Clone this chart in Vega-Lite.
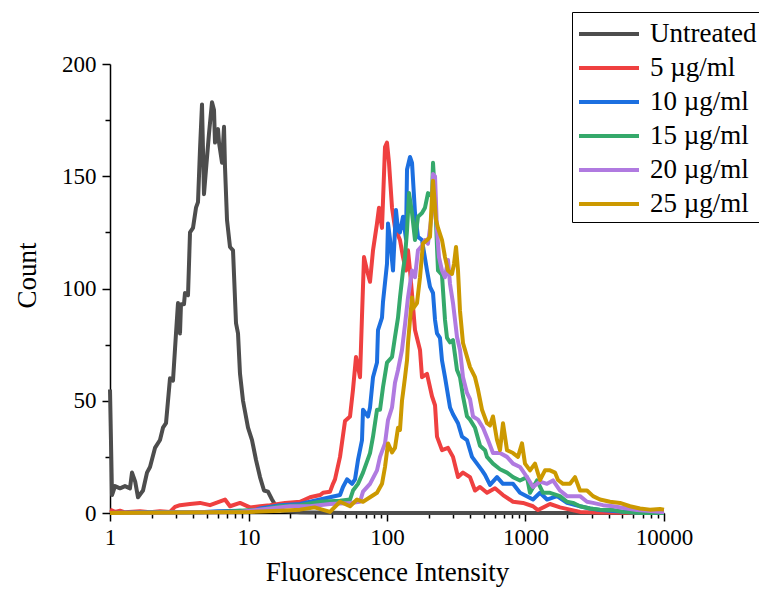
{
  "$schema": "https://vega.github.io/schema/vega-lite/v6.json",
  "autosize": {"type": "none"},
  "width": 554,
  "height": 449,
  "padding": {"left": 110, "top": 64, "right": 95, "bottom": 78},
  "background": "white",
  "config": {
    "view": {"stroke": null},
    "font": "Liberation Serif",
    "axis": {"grid": false, "domainColor": "#000000", "domainWidth": 1.5, "tickColor": "#000000", "tickWidth": 1.5, "labelFont": "Liberation Serif", "titleFont": "Liberation Serif", "labelColor": "#000000", "titleColor": "#000000", "labelFontSize": 23, "titleFontSize": 27, "titleFontWeight": "normal", "labelOverlap": false, "labelBound": false, "labelFlush": false}
  },
  "data": {"values": [
    {"sample": "Untreated", "intensity": 1.0, "count": 55},
    {"sample": "Untreated", "intensity": 1.034, "count": 8},
    {"sample": "Untreated", "intensity": 1.087, "count": 12},
    {"sample": "Untreated", "intensity": 1.181, "count": 11},
    {"sample": "Untreated", "intensity": 1.283, "count": 12},
    {"sample": "Untreated", "intensity": 1.394, "count": 11},
    {"sample": "Untreated", "intensity": 1.442, "count": 18},
    {"sample": "Untreated", "intensity": 1.52, "count": 14},
    {"sample": "Untreated", "intensity": 1.593, "count": 7},
    {"sample": "Untreated", "intensity": 1.731, "count": 10},
    {"sample": "Untreated", "intensity": 1.85, "count": 18},
    {"sample": "Untreated", "intensity": 1.945, "count": 20.5},
    {"sample": "Untreated", "intensity": 2.113, "count": 29},
    {"sample": "Untreated", "intensity": 2.296, "count": 32.5},
    {"sample": "Untreated", "intensity": 2.413, "count": 38},
    {"sample": "Untreated", "intensity": 2.537, "count": 40},
    {"sample": "Untreated", "intensity": 2.712, "count": 60},
    {"sample": "Untreated", "intensity": 2.85, "count": 59},
    {"sample": "Untreated", "intensity": 2.996, "count": 80},
    {"sample": "Untreated", "intensity": 3.097, "count": 93.5},
    {"sample": "Untreated", "intensity": 3.202, "count": 80},
    {"sample": "Untreated", "intensity": 3.255, "count": 93},
    {"sample": "Untreated", "intensity": 3.421, "count": 93},
    {"sample": "Untreated", "intensity": 3.479, "count": 98},
    {"sample": "Untreated", "intensity": 3.658, "count": 97},
    {"sample": "Untreated", "intensity": 3.782, "count": 125},
    {"sample": "Untreated", "intensity": 3.975, "count": 127},
    {"sample": "Untreated", "intensity": 4.178, "count": 136},
    {"sample": "Untreated", "intensity": 4.319, "count": 138.5},
    {"sample": "Untreated", "intensity": 4.465, "count": 162},
    {"sample": "Untreated", "intensity": 4.616, "count": 182},
    {"sample": "Untreated", "intensity": 4.7, "count": 160},
    {"sample": "Untreated", "intensity": 4.771, "count": 142},
    {"sample": "Untreated", "intensity": 4.933, "count": 153},
    {"sample": "Untreated", "intensity": 5.185, "count": 169},
    {"sample": "Untreated", "intensity": 5.451, "count": 183},
    {"sample": "Untreated", "intensity": 5.636, "count": 179.5},
    {"sample": "Untreated", "intensity": 5.73, "count": 165},
    {"sample": "Untreated", "intensity": 6.024, "count": 171},
    {"sample": "Untreated", "intensity": 6.124, "count": 165},
    {"sample": "Untreated", "intensity": 6.439, "count": 156},
    {"sample": "Untreated", "intensity": 6.656, "count": 172},
    {"sample": "Untreated", "intensity": 6.767, "count": 154},
    {"sample": "Untreated", "intensity": 6.996, "count": 130.5},
    {"sample": "Untreated", "intensity": 7.353, "count": 118.5},
    {"sample": "Untreated", "intensity": 7.73, "count": 117},
    {"sample": "Untreated", "intensity": 8.124, "count": 84.6},
    {"sample": "Untreated", "intensity": 8.4, "count": 80},
    {"sample": "Untreated", "intensity": 8.683, "count": 62},
    {"sample": "Untreated", "intensity": 9.127, "count": 50},
    {"sample": "Untreated", "intensity": 9.918, "count": 38},
    {"sample": "Untreated", "intensity": 10.6, "count": 32.5},
    {"sample": "Untreated", "intensity": 11.33, "count": 23.6},
    {"sample": "Untreated", "intensity": 12.11, "count": 16},
    {"sample": "Untreated", "intensity": 12.94, "count": 10},
    {"sample": "Untreated", "intensity": 13.83, "count": 9.5},
    {"sample": "Untreated", "intensity": 14.78, "count": 6},
    {"sample": "Untreated", "intensity": 15.8, "count": 3},
    {"sample": "Untreated", "intensity": 17.46, "count": 1},
    {"sample": "Untreated", "intensity": 23.54, "count": 0.3},
    {"sample": "Untreated", "intensity": 50, "count": 0},
    {"sample": "Untreated", "intensity": 10000, "count": 0},

    {"sample": "5 µg/ml", "intensity": 1.0, "count": 1.5},
    {"sample": "5 µg/ml", "intensity": 1.087, "count": 0.5},
    {"sample": "5 µg/ml", "intensity": 1.181, "count": 1.0},
    {"sample": "5 µg/ml", "intensity": 1.283, "count": 0.3},
    {"sample": "5 µg/ml", "intensity": 1.647, "count": 0.8},
    {"sample": "5 µg/ml", "intensity": 1.945, "count": 0.3},
    {"sample": "5 µg/ml", "intensity": 2.296, "count": 0.8},
    {"sample": "5 µg/ml", "intensity": 2.712, "count": 0.5},
    {"sample": "5 µg/ml", "intensity": 2.946, "count": 2.7},
    {"sample": "5 µg/ml", "intensity": 3.202, "count": 3.5},
    {"sample": "5 µg/ml", "intensity": 3.782, "count": 4},
    {"sample": "5 µg/ml", "intensity": 4.465, "count": 4.5},
    {"sample": "5 µg/ml", "intensity": 5.275, "count": 3.5},
    {"sample": "5 µg/ml", "intensity": 6.767, "count": 6},
    {"sample": "5 µg/ml", "intensity": 7.353, "count": 3},
    {"sample": "5 µg/ml", "intensity": 8.683, "count": 4.5},
    {"sample": "5 µg/ml", "intensity": 10.25, "count": 2.5},
    {"sample": "5 µg/ml", "intensity": 12.11, "count": 3},
    {"sample": "5 µg/ml", "intensity": 14.3, "count": 3.5},
    {"sample": "5 µg/ml", "intensity": 18.34, "count": 4.5},
    {"sample": "5 µg/ml", "intensity": 23.54, "count": 5},
    {"sample": "5 µg/ml", "intensity": 27.8, "count": 7},
    {"sample": "5 µg/ml", "intensity": 32.83, "count": 8},
    {"sample": "5 µg/ml", "intensity": 34.51, "count": 9},
    {"sample": "5 µg/ml", "intensity": 38.76, "count": 9.5},
    {"sample": "5 µg/ml", "intensity": 40.74, "count": 13},
    {"sample": "5 µg/ml", "intensity": 42.12, "count": 15},
    {"sample": "5 µg/ml", "intensity": 45.78, "count": 25},
    {"sample": "5 µg/ml", "intensity": 49.76, "count": 41},
    {"sample": "5 µg/ml", "intensity": 54.07, "count": 43},
    {"sample": "5 µg/ml", "intensity": 56.83, "count": 55},
    {"sample": "5 µg/ml", "intensity": 59.73, "count": 69.5},
    {"sample": "5 µg/ml", "intensity": 63.85, "count": 60.5},
    {"sample": "5 µg/ml", "intensity": 66.0, "count": 88},
    {"sample": "5 µg/ml", "intensity": 68.23, "count": 114},
    {"sample": "5 µg/ml", "intensity": 71.73, "count": 108},
    {"sample": "5 µg/ml", "intensity": 75.4, "count": 103},
    {"sample": "5 µg/ml", "intensity": 79.25, "count": 117},
    {"sample": "5 µg/ml", "intensity": 84.69, "count": 129},
    {"sample": "5 µg/ml", "intensity": 87.54, "count": 136},
    {"sample": "5 µg/ml", "intensity": 92.03, "count": 127},
    {"sample": "5 µg/ml", "intensity": 96.74, "count": 163},
    {"sample": "5 µg/ml", "intensity": 100.0, "count": 165},
    {"sample": "5 µg/ml", "intensity": 103.4, "count": 156},
    {"sample": "5 µg/ml", "intensity": 108.7, "count": 136},
    {"sample": "5 µg/ml", "intensity": 114.2, "count": 127},
    {"sample": "5 µg/ml", "intensity": 124.1, "count": 121.6},
    {"sample": "5 µg/ml", "intensity": 130.5, "count": 114},
    {"sample": "5 µg/ml", "intensity": 137.1, "count": 108},
    {"sample": "5 µg/ml", "intensity": 141.8, "count": 117},
    {"sample": "5 µg/ml", "intensity": 146.6, "count": 108},
    {"sample": "5 µg/ml", "intensity": 159.3, "count": 81.5},
    {"sample": "5 µg/ml", "intensity": 173.1, "count": 72.6},
    {"sample": "5 µg/ml", "intensity": 178.9, "count": 60.5},
    {"sample": "5 µg/ml", "intensity": 194.5, "count": 62},
    {"sample": "5 µg/ml", "intensity": 211.3, "count": 52},
    {"sample": "5 µg/ml", "intensity": 222.2, "count": 48},
    {"sample": "5 µg/ml", "intensity": 229.6, "count": 34},
    {"sample": "5 µg/ml", "intensity": 249.5, "count": 28},
    {"sample": "5 µg/ml", "intensity": 275.7, "count": 29},
    {"sample": "5 µg/ml", "intensity": 299.6, "count": 25},
    {"sample": "5 µg/ml", "intensity": 325.6, "count": 16},
    {"sample": "5 µg/ml", "intensity": 353.8, "count": 18},
    {"sample": "5 µg/ml", "intensity": 397.5, "count": 16},
    {"sample": "5 µg/ml", "intensity": 431.9, "count": 10},
    {"sample": "5 µg/ml", "intensity": 469.4, "count": 11.6},
    {"sample": "5 µg/ml", "intensity": 527.2, "count": 9},
    {"sample": "5 µg/ml", "intensity": 602.3, "count": 11},
    {"sample": "5 µg/ml", "intensity": 687.9, "count": 8},
    {"sample": "5 µg/ml", "intensity": 812.3, "count": 5},
    {"sample": "5 µg/ml", "intensity": 959.2, "count": 4.5},
    {"sample": "5 µg/ml", "intensity": 1133, "count": 3},
    {"sample": "5 µg/ml", "intensity": 1231, "count": 1.3},
    {"sample": "5 µg/ml", "intensity": 1503, "count": 4},
    {"sample": "5 µg/ml", "intensity": 1775, "count": 2.5},
    {"sample": "5 µg/ml", "intensity": 2096, "count": 1.5},
    {"sample": "5 µg/ml", "intensity": 2475, "count": 0.5},
    {"sample": "5 µg/ml", "intensity": 3451, "count": 0.2},
    {"sample": "5 µg/ml", "intensity": 10000, "count": 0},

    {"sample": "10 µg/ml", "intensity": 1.0, "count": 0},
    {"sample": "10 µg/ml", "intensity": 2.0, "count": 0.3},
    {"sample": "10 µg/ml", "intensity": 4.465, "count": 0.3},
    {"sample": "10 µg/ml", "intensity": 6.0, "count": 0.8},
    {"sample": "10 µg/ml", "intensity": 8.683, "count": 1},
    {"sample": "10 µg/ml", "intensity": 10.25, "count": 0.5},
    {"sample": "10 µg/ml", "intensity": 12.11, "count": 2},
    {"sample": "10 µg/ml", "intensity": 16.88, "count": 3.5},
    {"sample": "10 µg/ml", "intensity": 23.54, "count": 4},
    {"sample": "10 µg/ml", "intensity": 27.8, "count": 5},
    {"sample": "10 µg/ml", "intensity": 32.83, "count": 6},
    {"sample": "10 µg/ml", "intensity": 38.76, "count": 7},
    {"sample": "10 µg/ml", "intensity": 45.78, "count": 8},
    {"sample": "10 µg/ml", "intensity": 48.12, "count": 11.6},
    {"sample": "10 µg/ml", "intensity": 51.44, "count": 15},
    {"sample": "10 µg/ml", "intensity": 55.89, "count": 13},
    {"sample": "10 µg/ml", "intensity": 58.75, "count": 15},
    {"sample": "10 µg/ml", "intensity": 61.74, "count": 23.6},
    {"sample": "10 µg/ml", "intensity": 66.0, "count": 32.5},
    {"sample": "10 µg/ml", "intensity": 67.11, "count": 46},
    {"sample": "10 µg/ml", "intensity": 72.93, "count": 43},
    {"sample": "10 µg/ml", "intensity": 75.4, "count": 47},
    {"sample": "10 µg/ml", "intensity": 79.25, "count": 60.5},
    {"sample": "10 µg/ml", "intensity": 84.69, "count": 67},
    {"sample": "10 µg/ml", "intensity": 86.1, "count": 81.5},
    {"sample": "10 µg/ml", "intensity": 92.03, "count": 87},
    {"sample": "10 µg/ml", "intensity": 93.56, "count": 94},
    {"sample": "10 µg/ml", "intensity": 100.0, "count": 111},
    {"sample": "10 µg/ml", "intensity": 101.7, "count": 129},
    {"sample": "10 µg/ml", "intensity": 105.1, "count": 122},
    {"sample": "10 µg/ml", "intensity": 110.5, "count": 108},
    {"sample": "10 µg/ml", "intensity": 116.1, "count": 135},
    {"sample": "10 µg/ml", "intensity": 120.1, "count": 126},
    {"sample": "10 µg/ml", "intensity": 124.1, "count": 125},
    {"sample": "10 µg/ml", "intensity": 130.5, "count": 132},
    {"sample": "10 µg/ml", "intensity": 137.1, "count": 122},
    {"sample": "10 µg/ml", "intensity": 139.5, "count": 153},
    {"sample": "10 µg/ml", "intensity": 146.6, "count": 158.6},
    {"sample": "10 µg/ml", "intensity": 151.6, "count": 156},
    {"sample": "10 µg/ml", "intensity": 159.3, "count": 133.6},
    {"sample": "10 µg/ml", "intensity": 167.4, "count": 123},
    {"sample": "10 µg/ml", "intensity": 178.9, "count": 121.6},
    {"sample": "10 µg/ml", "intensity": 194.5, "count": 108},
    {"sample": "10 µg/ml", "intensity": 204.4, "count": 100.7},
    {"sample": "10 µg/ml", "intensity": 214.9, "count": 98},
    {"sample": "10 µg/ml", "intensity": 222.2, "count": 86},
    {"sample": "10 µg/ml", "intensity": 229.6, "count": 80},
    {"sample": "10 µg/ml", "intensity": 241.3, "count": 78},
    {"sample": "10 µg/ml", "intensity": 249.5, "count": 68},
    {"sample": "10 µg/ml", "intensity": 262.3, "count": 60.5},
    {"sample": "10 µg/ml", "intensity": 285.1, "count": 47},
    {"sample": "10 µg/ml", "intensity": 299.6, "count": 44},
    {"sample": "10 µg/ml", "intensity": 325.6, "count": 40},
    {"sample": "10 µg/ml", "intensity": 347.9, "count": 34},
    {"sample": "10 µg/ml", "intensity": 378.1, "count": 32.5},
    {"sample": "10 µg/ml", "intensity": 410.9, "count": 25},
    {"sample": "10 µg/ml", "intensity": 446.5, "count": 22},
    {"sample": "10 µg/ml", "intensity": 485.2, "count": 19},
    {"sample": "10 µg/ml", "intensity": 510.0, "count": 17},
    {"sample": "10 µg/ml", "intensity": 554.2, "count": 12.5},
    {"sample": "10 µg/ml", "intensity": 622.6, "count": 16},
    {"sample": "10 µg/ml", "intensity": 687.9, "count": 13},
    {"sample": "10 µg/ml", "intensity": 812.3, "count": 13},
    {"sample": "10 µg/ml", "intensity": 912.6, "count": 9},
    {"sample": "10 µg/ml", "intensity": 1133, "count": 6},
    {"sample": "10 µg/ml", "intensity": 1273, "count": 9},
    {"sample": "10 µg/ml", "intensity": 1430, "count": 6},
    {"sample": "10 µg/ml", "intensity": 1689, "count": 7.5},
    {"sample": "10 µg/ml", "intensity": 1994, "count": 4.5},
    {"sample": "10 µg/ml", "intensity": 2475, "count": 3},
    {"sample": "10 µg/ml", "intensity": 2922, "count": 2},
    {"sample": "10 µg/ml", "intensity": 3451, "count": 1.3},
    {"sample": "10 µg/ml", "intensity": 4075, "count": 1},
    {"sample": "10 µg/ml", "intensity": 5682, "count": 0.3},
    {"sample": "10 µg/ml", "intensity": 10000, "count": 0},

    {"sample": "15 µg/ml", "intensity": 1.0, "count": 0},
    {"sample": "15 µg/ml", "intensity": 6.226, "count": 0.5},
    {"sample": "15 µg/ml", "intensity": 12.11, "count": 1.5},
    {"sample": "15 µg/ml", "intensity": 16.88, "count": 3},
    {"sample": "15 µg/ml", "intensity": 23.54, "count": 3.5},
    {"sample": "15 µg/ml", "intensity": 32.83, "count": 5},
    {"sample": "15 µg/ml", "intensity": 45.78, "count": 5.5},
    {"sample": "15 µg/ml", "intensity": 54.07, "count": 6},
    {"sample": "15 µg/ml", "intensity": 56.83, "count": 10},
    {"sample": "15 µg/ml", "intensity": 61.74, "count": 13},
    {"sample": "15 µg/ml", "intensity": 67.11, "count": 18},
    {"sample": "15 µg/ml", "intensity": 75.4, "count": 26.7},
    {"sample": "15 µg/ml", "intensity": 79.25, "count": 34},
    {"sample": "15 µg/ml", "intensity": 84.69, "count": 46},
    {"sample": "15 µg/ml", "intensity": 89.03, "count": 46},
    {"sample": "15 µg/ml", "intensity": 93.56, "count": 56},
    {"sample": "15 µg/ml", "intensity": 100.0, "count": 67},
    {"sample": "15 µg/ml", "intensity": 108.7, "count": 69.5},
    {"sample": "15 µg/ml", "intensity": 114.2, "count": 78.4},
    {"sample": "15 µg/ml", "intensity": 120.1, "count": 87},
    {"sample": "15 µg/ml", "intensity": 124.1, "count": 96},
    {"sample": "15 µg/ml", "intensity": 130.5, "count": 108},
    {"sample": "15 µg/ml", "intensity": 134.9, "count": 114},
    {"sample": "15 µg/ml", "intensity": 139.5, "count": 126},
    {"sample": "15 µg/ml", "intensity": 144.2, "count": 142.5},
    {"sample": "15 µg/ml", "intensity": 151.6, "count": 133.6},
    {"sample": "15 µg/ml", "intensity": 159.3, "count": 121.6},
    {"sample": "15 µg/ml", "intensity": 167.4, "count": 132},
    {"sample": "15 µg/ml", "intensity": 178.9, "count": 133.6},
    {"sample": "15 µg/ml", "intensity": 188.1, "count": 136},
    {"sample": "15 µg/ml", "intensity": 197.7, "count": 142.5},
    {"sample": "15 µg/ml", "intensity": 211.3, "count": 141},
    {"sample": "15 µg/ml", "intensity": 214.9, "count": 156},
    {"sample": "15 µg/ml", "intensity": 222.2, "count": 141},
    {"sample": "15 µg/ml", "intensity": 229.6, "count": 118.5},
    {"sample": "15 µg/ml", "intensity": 233.5, "count": 108},
    {"sample": "15 µg/ml", "intensity": 249.5, "count": 106},
    {"sample": "15 µg/ml", "intensity": 262.3, "count": 86},
    {"sample": "15 µg/ml", "intensity": 271.2, "count": 78},
    {"sample": "15 µg/ml", "intensity": 285.1, "count": 76},
    {"sample": "15 µg/ml", "intensity": 299.6, "count": 77},
    {"sample": "15 µg/ml", "intensity": 320.2, "count": 63.7},
    {"sample": "15 µg/ml", "intensity": 336.6, "count": 60.5},
    {"sample": "15 µg/ml", "intensity": 353.8, "count": 52},
    {"sample": "15 µg/ml", "intensity": 378.1, "count": 43},
    {"sample": "15 µg/ml", "intensity": 397.5, "count": 41.6},
    {"sample": "15 µg/ml", "intensity": 431.9, "count": 38},
    {"sample": "15 µg/ml", "intensity": 469.4, "count": 30},
    {"sample": "15 µg/ml", "intensity": 510.0, "count": 28},
    {"sample": "15 µg/ml", "intensity": 527.2, "count": 25},
    {"sample": "15 µg/ml", "intensity": 582.6, "count": 22},
    {"sample": "15 µg/ml", "intensity": 654.6, "count": 19.5},
    {"sample": "15 µg/ml", "intensity": 735.2, "count": 18},
    {"sample": "15 µg/ml", "intensity": 812.3, "count": 16},
    {"sample": "15 µg/ml", "intensity": 912.6, "count": 14.5},
    {"sample": "15 µg/ml", "intensity": 1025, "count": 16},
    {"sample": "15 µg/ml", "intensity": 1078, "count": 9},
    {"sample": "15 µg/ml", "intensity": 1211, "count": 14.5},
    {"sample": "15 µg/ml", "intensity": 1338, "count": 9},
    {"sample": "15 µg/ml", "intensity": 1503, "count": 9},
    {"sample": "15 µg/ml", "intensity": 1775, "count": 7.5},
    {"sample": "15 µg/ml", "intensity": 1994, "count": 5},
    {"sample": "15 µg/ml", "intensity": 2203, "count": 4.5},
    {"sample": "15 µg/ml", "intensity": 2475, "count": 3},
    {"sample": "15 µg/ml", "intensity": 2922, "count": 2},
    {"sample": "15 µg/ml", "intensity": 3451, "count": 1.5},
    {"sample": "15 µg/ml", "intensity": 4283, "count": 1.3},
    {"sample": "15 µg/ml", "intensity": 5058, "count": 0.5},
    {"sample": "15 µg/ml", "intensity": 6711, "count": 0},
    {"sample": "15 µg/ml", "intensity": 10000, "count": 0},

    {"sample": "20 µg/ml", "intensity": 1.0, "count": 0},
    {"sample": "20 µg/ml", "intensity": 8.683, "count": 0.5},
    {"sample": "20 µg/ml", "intensity": 14.3, "count": 2},
    {"sample": "20 µg/ml", "intensity": 19.94, "count": 3},
    {"sample": "20 µg/ml", "intensity": 27.8, "count": 3},
    {"sample": "20 µg/ml", "intensity": 38.76, "count": 4},
    {"sample": "20 µg/ml", "intensity": 54.07, "count": 4.5},
    {"sample": "20 µg/ml", "intensity": 63.85, "count": 5},
    {"sample": "20 µg/ml", "intensity": 67.11, "count": 9.5},
    {"sample": "20 µg/ml", "intensity": 75.4, "count": 13},
    {"sample": "20 µg/ml", "intensity": 84.69, "count": 19},
    {"sample": "20 µg/ml", "intensity": 89.03, "count": 25},
    {"sample": "20 µg/ml", "intensity": 96.74, "count": 31},
    {"sample": "20 µg/ml", "intensity": 101.7, "count": 41.4},
    {"sample": "20 µg/ml", "intensity": 108.7, "count": 47},
    {"sample": "20 µg/ml", "intensity": 114.2, "count": 58},
    {"sample": "20 µg/ml", "intensity": 120.1, "count": 63.7},
    {"sample": "20 µg/ml", "intensity": 128.3, "count": 72.6},
    {"sample": "20 µg/ml", "intensity": 134.9, "count": 84},
    {"sample": "20 µg/ml", "intensity": 141.8, "count": 96},
    {"sample": "20 µg/ml", "intensity": 151.6, "count": 108},
    {"sample": "20 µg/ml", "intensity": 159.3, "count": 105},
    {"sample": "20 µg/ml", "intensity": 167.4, "count": 117},
    {"sample": "20 µg/ml", "intensity": 178.9, "count": 119},
    {"sample": "20 µg/ml", "intensity": 188.1, "count": 121.6},
    {"sample": "20 µg/ml", "intensity": 197.7, "count": 120},
    {"sample": "20 µg/ml", "intensity": 211.3, "count": 133.6},
    {"sample": "20 µg/ml", "intensity": 214.9, "count": 151},
    {"sample": "20 µg/ml", "intensity": 222.2, "count": 150},
    {"sample": "20 µg/ml", "intensity": 229.6, "count": 126},
    {"sample": "20 µg/ml", "intensity": 237.4, "count": 114},
    {"sample": "20 µg/ml", "intensity": 249.5, "count": 108},
    {"sample": "20 µg/ml", "intensity": 262.3, "count": 105},
    {"sample": "20 µg/ml", "intensity": 275.7, "count": 112.7},
    {"sample": "20 µg/ml", "intensity": 285.1, "count": 102},
    {"sample": "20 µg/ml", "intensity": 299.6, "count": 93.5},
    {"sample": "20 µg/ml", "intensity": 309.8, "count": 86},
    {"sample": "20 µg/ml", "intensity": 320.2, "count": 78.4},
    {"sample": "20 µg/ml", "intensity": 336.6, "count": 72.6},
    {"sample": "20 µg/ml", "intensity": 353.8, "count": 60.5},
    {"sample": "20 µg/ml", "intensity": 378.1, "count": 53.5},
    {"sample": "20 µg/ml", "intensity": 397.5, "count": 50.7},
    {"sample": "20 µg/ml", "intensity": 417.8, "count": 43},
    {"sample": "20 µg/ml", "intensity": 453.9, "count": 41.6},
    {"sample": "20 µg/ml", "intensity": 493.3, "count": 38},
    {"sample": "20 µg/ml", "intensity": 536.1, "count": 32.5},
    {"sample": "20 µg/ml", "intensity": 582.6, "count": 26.7},
    {"sample": "20 µg/ml", "intensity": 654.6, "count": 26.7},
    {"sample": "20 µg/ml", "intensity": 735.2, "count": 25},
    {"sample": "20 µg/ml", "intensity": 812.3, "count": 22},
    {"sample": "20 µg/ml", "intensity": 912.6, "count": 20.5},
    {"sample": "20 µg/ml", "intensity": 1025, "count": 16},
    {"sample": "20 µg/ml", "intensity": 1133, "count": 11.6},
    {"sample": "20 µg/ml", "intensity": 1273, "count": 14},
    {"sample": "20 µg/ml", "intensity": 1430, "count": 13},
    {"sample": "20 µg/ml", "intensity": 1580, "count": 14.5},
    {"sample": "20 µg/ml", "intensity": 1775, "count": 10},
    {"sample": "20 µg/ml", "intensity": 1994, "count": 7.5},
    {"sample": "20 µg/ml", "intensity": 2203, "count": 7.5},
    {"sample": "20 µg/ml", "intensity": 2475, "count": 7.5},
    {"sample": "20 µg/ml", "intensity": 2780, "count": 5},
    {"sample": "20 µg/ml", "intensity": 3072, "count": 4.5},
    {"sample": "20 µg/ml", "intensity": 3627, "count": 3.5},
    {"sample": "20 µg/ml", "intensity": 4283, "count": 3},
    {"sample": "20 µg/ml", "intensity": 5406, "count": 2},
    {"sample": "20 µg/ml", "intensity": 6385, "count": 1.3},
    {"sample": "20 µg/ml", "intensity": 7541, "count": 1},
    {"sample": "20 µg/ml", "intensity": 9356, "count": 0.5},
    {"sample": "20 µg/ml", "intensity": 10000, "count": 0.5},

    {"sample": "25 µg/ml", "intensity": 1.0, "count": 0},
    {"sample": "25 µg/ml", "intensity": 10.25, "count": 0.5},
    {"sample": "25 µg/ml", "intensity": 16.88, "count": 1},
    {"sample": "25 µg/ml", "intensity": 23.54, "count": 1.5},
    {"sample": "25 µg/ml", "intensity": 30.0, "count": 2.5},
    {"sample": "25 µg/ml", "intensity": 38.76, "count": 0.5},
    {"sample": "25 µg/ml", "intensity": 45.78, "count": 5},
    {"sample": "25 µg/ml", "intensity": 54.07, "count": 3},
    {"sample": "25 µg/ml", "intensity": 60.73, "count": 6},
    {"sample": "25 µg/ml", "intensity": 67.11, "count": 5},
    {"sample": "25 µg/ml", "intensity": 75.4, "count": 7},
    {"sample": "25 µg/ml", "intensity": 84.69, "count": 9},
    {"sample": "25 µg/ml", "intensity": 92.03, "count": 13},
    {"sample": "25 µg/ml", "intensity": 96.74, "count": 20.5},
    {"sample": "25 µg/ml", "intensity": 101.7, "count": 31},
    {"sample": "25 µg/ml", "intensity": 108.7, "count": 27},
    {"sample": "25 µg/ml", "intensity": 114.2, "count": 29},
    {"sample": "25 µg/ml", "intensity": 120.1, "count": 38},
    {"sample": "25 µg/ml", "intensity": 124.1, "count": 37},
    {"sample": "25 µg/ml", "intensity": 128.3, "count": 50},
    {"sample": "25 µg/ml", "intensity": 130.5, "count": 53.5},
    {"sample": "25 µg/ml", "intensity": 134.9, "count": 60.5},
    {"sample": "25 µg/ml", "intensity": 139.5, "count": 68},
    {"sample": "25 µg/ml", "intensity": 141.8, "count": 75.7},
    {"sample": "25 µg/ml", "intensity": 146.6, "count": 86},
    {"sample": "25 µg/ml", "intensity": 151.6, "count": 96},
    {"sample": "25 µg/ml", "intensity": 154.1, "count": 91},
    {"sample": "25 µg/ml", "intensity": 164.7, "count": 93.5},
    {"sample": "25 µg/ml", "intensity": 173.1, "count": 105},
    {"sample": "25 µg/ml", "intensity": 181.9, "count": 120},
    {"sample": "25 µg/ml", "intensity": 194.5, "count": 121.6},
    {"sample": "25 µg/ml", "intensity": 204.4, "count": 123},
    {"sample": "25 µg/ml", "intensity": 211.3, "count": 141},
    {"sample": "25 µg/ml", "intensity": 214.9, "count": 148},
    {"sample": "25 µg/ml", "intensity": 225.9, "count": 130.5},
    {"sample": "25 µg/ml", "intensity": 233.5, "count": 127},
    {"sample": "25 µg/ml", "intensity": 249.5, "count": 121.6},
    {"sample": "25 µg/ml", "intensity": 262.3, "count": 114},
    {"sample": "25 µg/ml", "intensity": 275.7, "count": 108},
    {"sample": "25 µg/ml", "intensity": 294.7, "count": 106.5},
    {"sample": "25 µg/ml", "intensity": 304.7, "count": 111},
    {"sample": "25 µg/ml", "intensity": 315.0, "count": 118.5},
    {"sample": "25 µg/ml", "intensity": 325.6, "count": 108},
    {"sample": "25 µg/ml", "intensity": 336.6, "count": 90},
    {"sample": "25 µg/ml", "intensity": 353.8, "count": 75.7},
    {"sample": "25 µg/ml", "intensity": 397.5, "count": 65},
    {"sample": "25 µg/ml", "intensity": 431.9, "count": 60.5},
    {"sample": "25 µg/ml", "intensity": 453.9, "count": 55},
    {"sample": "25 µg/ml", "intensity": 485.2, "count": 46},
    {"sample": "25 µg/ml", "intensity": 527.2, "count": 40},
    {"sample": "25 µg/ml", "intensity": 554.2, "count": 39},
    {"sample": "25 µg/ml", "intensity": 582.6, "count": 43},
    {"sample": "25 µg/ml", "intensity": 622.6, "count": 32.5},
    {"sample": "25 µg/ml", "intensity": 654.6, "count": 28},
    {"sample": "25 µg/ml", "intensity": 687.9, "count": 40},
    {"sample": "25 µg/ml", "intensity": 735.2, "count": 28},
    {"sample": "25 µg/ml", "intensity": 812.3, "count": 26.7},
    {"sample": "25 µg/ml", "intensity": 882.6, "count": 25},
    {"sample": "25 µg/ml", "intensity": 943.4, "count": 31},
    {"sample": "25 µg/ml", "intensity": 991.7, "count": 22},
    {"sample": "25 µg/ml", "intensity": 1078, "count": 19},
    {"sample": "25 µg/ml", "intensity": 1171, "count": 22},
    {"sample": "25 µg/ml", "intensity": 1273, "count": 14.7},
    {"sample": "25 µg/ml", "intensity": 1383, "count": 19},
    {"sample": "25 µg/ml", "intensity": 1503, "count": 19},
    {"sample": "25 µg/ml", "intensity": 1633, "count": 18},
    {"sample": "25 µg/ml", "intensity": 1717, "count": 14.7},
    {"sample": "25 µg/ml", "intensity": 1866, "count": 13},
    {"sample": "25 µg/ml", "intensity": 2096, "count": 13},
    {"sample": "25 µg/ml", "intensity": 2278, "count": 16},
    {"sample": "25 µg/ml", "intensity": 2475, "count": 10},
    {"sample": "25 µg/ml", "intensity": 2780, "count": 10},
    {"sample": "25 µg/ml", "intensity": 3072, "count": 7.5},
    {"sample": "25 µg/ml", "intensity": 3451, "count": 6},
    {"sample": "25 µg/ml", "intensity": 4075, "count": 5},
    {"sample": "25 µg/ml", "intensity": 4812, "count": 4.5},
    {"sample": "25 µg/ml", "intensity": 5682, "count": 3},
    {"sample": "25 µg/ml", "intensity": 6711, "count": 2},
    {"sample": "25 µg/ml", "intensity": 7925, "count": 1.5},
    {"sample": "25 µg/ml", "intensity": 9356, "count": 1.8},
    {"sample": "25 µg/ml", "intensity": 10000, "count": 1.5}
  ]},
  "mark": {"type": "line", "strokeWidth": 4, "strokeJoin": "round", "interpolate": "linear"},
  "encoding": {
    "x": {
      "field": "intensity", "type": "quantitative",
      "scale": {"type": "log", "domain": [1, 10000], "nice": false},
      "axis": {
        "title": "Fluorescence Intensity",
        "labelFont": "Liberation Serif",
        "titleFont": "Liberation Serif",
        "values": [1,2,3,4,5,6,7,8,9,10,20,30,40,50,60,70,80,90,100,200,300,400,500,600,700,800,900,1000,2000,3000,4000,5000,6000,7000,8000,9000,10000],
        "labelExpr": "(datum.value==1||datum.value==10||datum.value==100||datum.value==1000||datum.value==10000) ? format(datum.value,'d') : ''",
        "tickSize": {"condition": {"test": "datum.value==1||datum.value==10||datum.value==100||datum.value==1000||datum.value==10000", "value": 8}, "value": 5},
        "labelFlush": false,
        "labelPadding": 5,
        "titlePadding": 10
      }
    },
    "y": {
      "field": "count", "type": "quantitative",
      "scale": {"domain": [0, 200], "nice": false},
      "axis": {
        "title": "Count",
        "labelFont": "Liberation Serif",
        "titleFont": "Liberation Serif",
        "values": [0,25,50,75,100,125,150,175,200],
        "labelExpr": "datum.value % 50 == 0 ? format(datum.value,'d') : ''",
        "tickSize": {"condition": {"test": "datum.value % 50 == 0", "value": 8}, "value": 5},
        "labelFlush": false,
        "labelPadding": 6,
        "titlePadding": 20,
        "titleY": 211
      }
    },
    "color": {
      "field": "sample", "type": "nominal",
      "scale": {
        "domain": ["Untreated", "5 µg/ml", "10 µg/ml", "15 µg/ml", "20 µg/ml", "25 µg/ml"],
        "range": ["#4d4d4d", "#ef4040", "#1c6fe0", "#35a96b", "#b07ae0", "#cc9900"]
      },
      "legend": {
        "title": null,
        "orient": "none",
        "legendX": 462,
        "legendY": -52,
        "symbolType": "M-1,0H3",
        "symbolSize": 900,
        "symbolStrokeWidth": 4,
        "labelFont": "Liberation Serif",
        "labelFontSize": 27,
        "labelColor": "#000000",
        "labelOffset": 39,
        "rowPadding": 4,
        "padding": 5,
        "strokeColor": "#000000",
        "fillColor": "#ffffff"
      }
    }
  }
}
